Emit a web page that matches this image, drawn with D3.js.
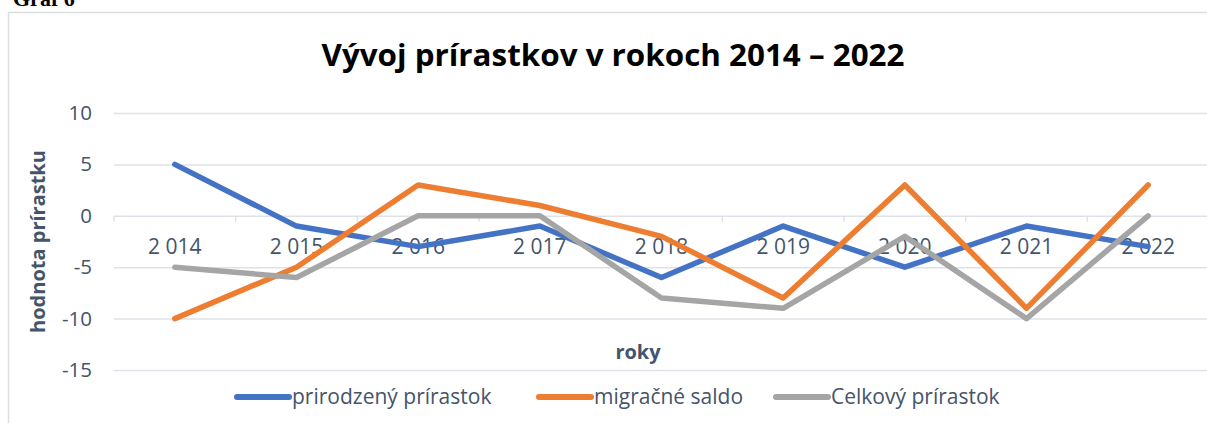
<!DOCTYPE html>
<html>
<head>
<meta charset="utf-8">
<script src="https://cdn.jsdelivr.net/npm/d3@7"></script>
<style>
  body { margin: 0; background: #fff; }
  svg { display: block; font-family: "Open Sans", "Noto Sans", sans-serif; }
</style>
</head>
<body>
<div id="chart"></div>
<script>
/* Vývoj prírastkov - line chart */

const width = 1207,
  height = 423,
  margin = ({ top: 113, right: -2, bottom: 53, left: 114 });

// data
const years = ["2 014", "2 015", "2 016", "2 017", "2 018", "2 019", "2 020", "2 021", "2 022"];
const prirodzeny = [5, -1, -3, -1, -6, -1, -5, -1, -3];
const migracne = [-10, -5, 3, 1, -2, -8, 3, -9, 3];
const celkovy = [-5, -6, 0, 0, -8, -9, -2, -10, 0];
const yTicks = [10, 5, 0, -5, -10, -15];
const seriesNames = ["prirodzený prírastok", "migračné saldo", "Celkový prírastok"];

const series = [
  { name: seriesNames[0], values: prirodzeny, color: "#4472C4" },
  { name: seriesNames[1], values: migracne, color: "#ED7D31" },
  { name: seriesNames[2], values: celkovy, color: "#A5A5A5" }
];

const textColor = "#44546A",
  gridColor = "#DEE2E8";

const svg = d3.select("#chart")
  .append("svg")
  .attr("width", width)
  .attr("height", height);

// caption above the frame, partly cut off like in the source
svg.append("text")
  .attr("x", 13)
  .attr("y", 6)
  .attr("font-family", "Liberation Serif, serif")
  .attr("font-weight", "bold")
  .attr("font-size", 22)
  .attr("fill", "#000")
  .text("Graf 6");

// chart frame
svg.append("rect")
  .attr("x", 8.5)
  .attr("y", 12.5)
  .attr("width", width + 10)
  .attr("height", height + 10)
  .attr("fill", "#fff")
  .attr("stroke", "#DADDE2")
  .attr("stroke-width", 1.5);

let x = d3.scaleBand()
  .domain(years)
  .range([margin.left, width - margin.right]);

let y = d3.scaleLinear()
  .domain([-15, 10])
  .range([height - margin.bottom, margin.top]);

// gridlines + y labels
const yAxis = svg.append("g")
  .attr("transform", `translate(${margin.left},0)`)
  .call(d3.axisLeft(y)
    .tickValues(yTicks)
    .tickFormat(d => String(d))
    .tickSize(-(width - margin.right - margin.left))
    .tickPadding(22)
  );
yAxis.select(".domain").remove();
yAxis.selectAll(".tick line")
  .attr("stroke", gridColor)
  .attr("stroke-width", 1.5);
yAxis.selectAll(".tick text")
  .attr("fill", textColor)
  .attr("font-size", 20.5)
  .attr("font-family", "Open Sans, sans-serif");

// category axis at zero
const xAxis = svg.append("g")
  .attr("transform", `translate(0,${y(0)})`)
  .call(d3.axisBottom(x).tickSize(0).tickPadding(31));
xAxis.select(".domain").remove();
xAxis.selectAll(".tick text")
  .attr("fill", textColor)
  .attr("font-size", 21)
  .attr("font-family", "Open Sans, sans-serif")
  .attr("dy", "0.35em");

// tick marks on band edges
svg.append("g")
  .selectAll("line")
  .data(years)
  .join("line")
  .attr("x1", d => x(d))
  .attr("x2", d => x(d))
  .attr("y1", y(0))
  .attr("y2", y(0) + 6)
  .attr("stroke", gridColor)
  .attr("stroke-width", 1.5);

// axis titles
svg.append("text")
  .attr("text-anchor", "middle")
  .attr("x", 638)
  .attr("y", 359)
  .attr("font-size", 20)
  .attr("font-weight", "bold")
  .attr("fill", textColor)
  .text("roky");

svg.append("text")
  .attr("text-anchor", "middle")
  .attr("transform", `translate(45,${y(-2.5)}) rotate(-90)`)
  .attr("font-size", 20)
  .attr("font-weight", "bold")
  .attr("fill", textColor)
  .text("hodnota prírastku");

// title
svg.append("text")
  .attr("text-anchor", "middle")
  .attr("x", 613)
  .attr("y", 66)
  .attr("font-size", 31)
  .attr("font-weight", "bold")
  .attr("fill", "#000")
  .attr("textLength", 583)
  .attr("lengthAdjust", "spacingAndGlyphs")
  .text("Vývoj prírastkov v rokoch 2014 – 2022");

// lines
let line = d3.line()
  .x((d, i) => x(years[i]) + x.bandwidth() / 2)
  .y(d => y(d));

svg.append("g")
  .selectAll("path")
  .data(series)
  .join("path")
  .attr("d", d => line(d.values))
  .attr("fill", "none")
  .attr("stroke", d => d.color)
  .attr("stroke-width", 5.5)
  .attr("stroke-linecap", "round")
  .attr("stroke-linejoin", "round");

// legend
const legendX = [237, 539, 776];
const legend = svg.append("g")
  .selectAll("g")
  .data(series)
  .join("g")
  .attr("transform", (d, i) => `translate(${legendX[i]},397)`);

legend.append("line")
  .attr("x1", 0)
  .attr("x2", 52)
  .attr("stroke", d => d.color)
  .attr("stroke-width", 6)
  .attr("stroke-linecap", "round");

legend.append("text")
  .attr("x", 55)
  .attr("dy", "0.35em")
  .attr("font-size", 21)
  .attr("fill", textColor)
  .text(d => d.name);
</script>
</body>
</html>
